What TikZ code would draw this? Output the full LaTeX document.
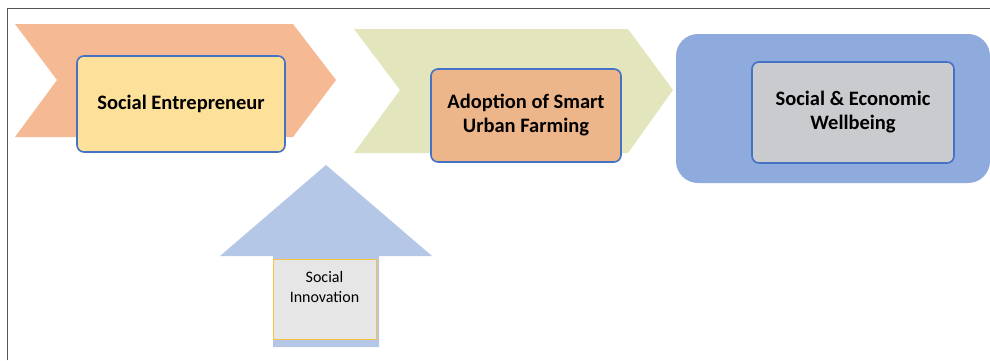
\documentclass[tikz,border=0pt]{standalone}
\usepackage{fontspec}
\setmainfont{Carlito}
\definecolor{chevA}{HTML}{F5B993}
\definecolor{chevB}{HTML}{E3E5BD}
\definecolor{boxA}{HTML}{FDE09A}
\definecolor{boxB}{HTML}{EDB58A}
\definecolor{panel}{HTML}{8FAADC}
\definecolor{boxC}{HTML}{CACBCF}
\definecolor{arrowblue}{HTML}{B4C7E7}
\definecolor{boxD}{HTML}{E7E6E6}
\definecolor{edgeblue}{HTML}{4472C4}
\definecolor{edgegold}{HTML}{F5C242}
\definecolor{frame}{HTML}{555555}
\tikzset{
  stagebox/.style={draw=edgeblue, line width=1.6pt, rounded corners=7pt,
    align=center, inner sep=0pt, font=\fontsize{20.5}{24}\selectfont\bfseries},
  smallbox/.style={draw=edgegold, line width=1pt, fill=boxD,
    align=center, inner sep=0pt}
}
\begin{document}
\begin{tikzpicture}[x=1pt,y=-1pt]
  \useasboundingbox (0,0) rectangle (990,360);
  % outer frame (top and left edges)
  \draw[frame, line width=1pt] (7,360) -- (7,8.5) -- (990,8.5);

  % first chevron and its box
  \fill[chevA] (15,24) -- (293,24) -- (336,80) -- (293,137) -- (15,137) -- (57,80) -- cycle;
  \node[stagebox, fill=boxA, minimum width=208pt, minimum height=96pt] (ent) at (181,104) {Social Entrepreneur};

  % second chevron and its box
  \fill[chevB] (354,29) -- (628,29) -- (673,90) -- (628,153) -- (354,153) -- (400,90) -- cycle;
  \node[stagebox, fill=boxB, minimum width=190pt, minimum height=93pt] (farm) at (526,115.5) {Adoption of Smart\\Urban Farming};

  % outcome panel and its box
  \fill[panel, rounded corners=22pt] (676,34) rectangle (990,183);
  \node[stagebox, fill=boxC, minimum width=202pt, minimum height=101pt] (well) at (853,112.5) {Social \& Economic\\Wellbeing};

  % upward arrow with its label box
  \fill[arrowblue] (326,165) -- (432,256) -- (379,256) -- (379,347) -- (273,347) -- (273,256) -- (220,256) -- cycle;
  \node[smallbox, minimum width=103pt, minimum height=80pt] (innov) at (324.5,299) {};
  \node[anchor=north, align=center, font=\fontsize{16}{20}\selectfont, inner sep=0pt] (innovtext) at (324.5,271.5) {Social\\Innovation};
\end{tikzpicture}
\end{document}
